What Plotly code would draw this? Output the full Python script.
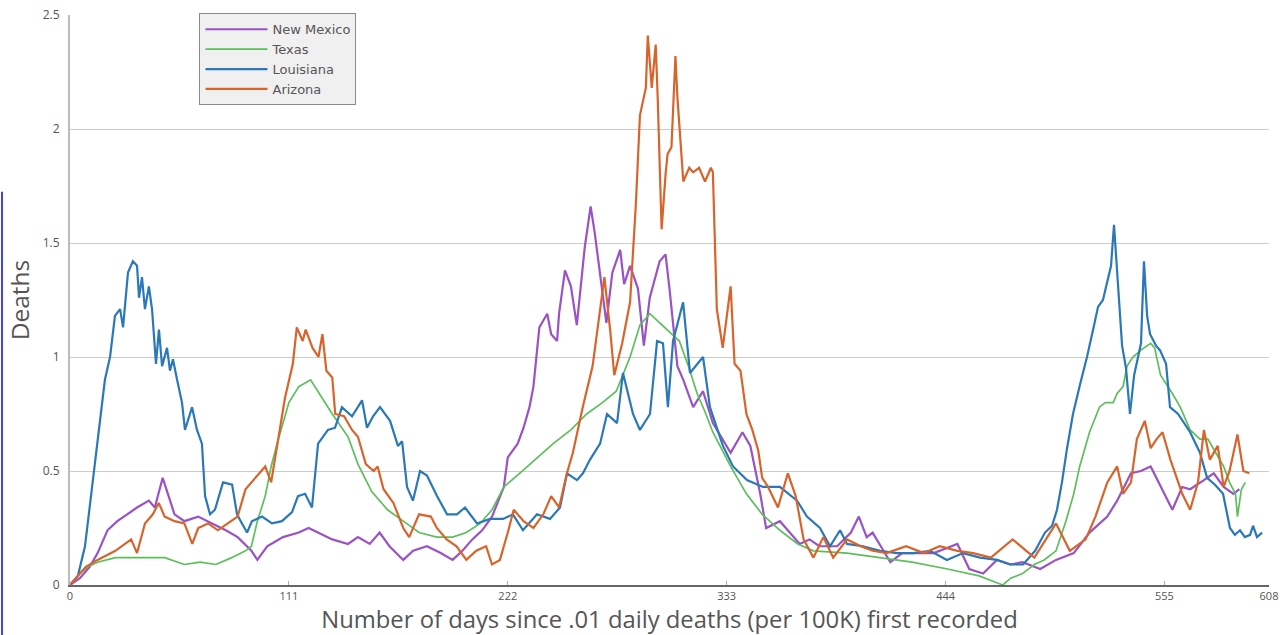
import plotly.graph_objects as go

# ---- data ----
x_tickvals = [0, 111, 222, 333, 444, 555, 608]
y_tickvals = [0, 0.5, 1, 1.5, 2, 2.5]
y_ticktext = ["0", "0.5", "1", "1.5", "2", "2.5"]

nm_day = [0, 5, 10, 14, 19, 24, 29, 34, 40, 43, 47, 50, 53, 58, 65, 72, 79, 85, 92, 95, 100, 108, 116, 121, 126,
          133, 141, 146, 152, 157, 162, 169, 174, 181, 188, 194, 199, 204, 209, 214, 220, 222, 227, 230, 233, 235,
          238, 242, 244, 247, 248, 251, 254, 257, 261, 264, 266, 269, 272, 275, 279, 281, 284, 288, 291, 294, 299,
          302, 304, 308, 311, 316, 321, 326, 335, 341, 345, 350, 353, 360, 365, 370, 375, 380, 389, 396, 400, 404,
          407, 411, 416, 422, 431, 438, 450, 456, 463, 470, 477, 483, 492, 500, 509, 517, 526, 531, 538, 543, 548,
          554, 559, 564, 568, 575, 580, 585, 590, 593]
nm_val = [0, 0.03, 0.08, 0.14, 0.24, 0.28, 0.31, 0.34, 0.37, 0.34, 0.47, 0.39, 0.31, 0.28, 0.30, 0.27, 0.24, 0.21,
          0.15, 0.11, 0.17, 0.21, 0.23, 0.25, 0.23, 0.20, 0.18, 0.21, 0.18, 0.23, 0.17, 0.11, 0.15, 0.17, 0.14, 0.11,
          0.15, 0.20, 0.24, 0.30, 0.43, 0.56, 0.62, 0.69, 0.78, 0.87, 1.13, 1.19, 1.10, 1.07, 1.19, 1.38, 1.31, 1.14,
          1.48, 1.66, 1.55, 1.34, 1.15, 1.37, 1.47, 1.32, 1.40, 1.30, 1.05, 1.26, 1.42, 1.45, 1.30, 0.96, 0.90, 0.78,
          0.85, 0.71, 0.58, 0.67, 0.61, 0.40, 0.25, 0.28, 0.23, 0.18, 0.20, 0.17, 0.17, 0.23, 0.30, 0.21, 0.23, 0.17,
          0.10, 0.14, 0.14, 0.14, 0.18, 0.07, 0.05, 0.11, 0.09, 0.10, 0.07, 0.11, 0.14, 0.23, 0.30, 0.37, 0.49, 0.50,
          0.52, 0.42, 0.33, 0.43, 0.42, 0.46, 0.49, 0.43, 0.40, 0.42]

tx_day = [0, 5, 9, 14, 23, 35, 48, 58, 66, 74, 82, 89, 92, 95, 99, 102, 105, 111, 116, 122, 127, 133, 141, 146,
          153, 161, 169, 177, 186, 194, 201, 208, 214, 220, 228, 237, 245, 254, 262, 270, 277, 284, 289, 294, 299,
          304, 309, 314, 318, 322, 326, 335, 343, 351, 360, 369, 377, 394, 411, 427, 445, 461, 470, 473, 477, 483,
          489, 494, 500, 505, 509, 512, 517, 522, 525, 529, 531, 534, 536, 539, 543, 548, 550, 553, 556, 559, 563,
          568, 573, 577, 581, 585, 588, 591, 592, 594, 596]
tx_val = [0, 0.05, 0.08, 0.10, 0.12, 0.12, 0.12, 0.09, 0.10, 0.09, 0.12, 0.15, 0.17, 0.28, 0.39, 0.52, 0.62, 0.80,
          0.87, 0.90, 0.83, 0.75, 0.65, 0.53, 0.41, 0.33, 0.28, 0.23, 0.21, 0.21, 0.23, 0.27, 0.33, 0.43, 0.49, 0.56,
          0.62, 0.68, 0.75, 0.80, 0.85, 1.00, 1.14, 1.19, 1.15, 1.11, 1.07, 0.95, 0.84, 0.76, 0.67, 0.52, 0.40, 0.31,
          0.24, 0.18, 0.15, 0.14, 0.12, 0.10, 0.07, 0.04, 0.01, 0.0, 0.03, 0.05, 0.09, 0.11, 0.15, 0.28, 0.40, 0.52,
          0.67, 0.78, 0.80, 0.80, 0.84, 0.87, 0.96, 1.00, 1.03, 1.06, 1.04, 0.92, 0.88, 0.84, 0.78, 0.68, 0.64, 0.64,
          0.58, 0.52, 0.45, 0.40, 0.30, 0.42, 0.45]

la_day = [0, 4, 7.6, 12.7, 17.7, 20.3, 22.8, 25.4, 26.9, 29.4, 31.9, 34, 35, 36.5, 38, 40, 41.6, 43.6, 45.1, 46.7,
          49.2, 50.7, 52.2, 54.3, 56.8, 58.3, 61.9, 64.4, 66.9, 68.5, 71, 73.5, 77.6, 82.2, 84.7, 87.2, 89.8, 92.3,
          97.4, 102.4, 107.5, 112.6, 115.6, 119.2, 122.7, 125.8, 130.8, 134.4, 137.9, 143, 148.1, 150.6, 153.7,
          157.2, 162.3, 166.3, 168.4, 170.9, 173.9, 177.5, 181, 186.1, 191.2, 196.2, 200.3, 206.4, 213, 219.6,
          224.6, 229.7, 236.8, 243.4, 248.5, 252, 257.1, 260.1, 263.7, 268.8, 272.3, 277.4, 280.4, 285.5, 289,
          294.1, 297.7, 300.7, 303.2, 305.8, 310.9, 314.4, 321, 324.5, 331.1, 336.2, 343.3, 351.4, 360, 368.7,
          373.7, 380.3, 385.4, 390.5, 394, 402.1, 410.8, 419.4, 427.5, 436.1, 444.7, 452.8, 461.5, 470.1, 476.7,
          483.3, 489.4, 494.4, 498, 500.5, 503, 505.6, 508.6, 512.2, 515.7, 518.8, 521.3, 523.8, 526.4, 527.9,
          529.4, 531.4, 533.5, 535.5, 537.5, 539.6, 541.6, 543.1, 544.6, 546.2, 547.7, 550.7, 552.7, 555.8, 557.8,
          561.9, 568, 573, 576.6, 580.6, 584.7, 588.2, 590.7, 593.3, 595.8, 598.4, 599.9, 601.9, 604.5]
la_val = [0, 0.04, 0.17, 0.53, 0.90, 1.00, 1.18, 1.21, 1.13, 1.37, 1.42, 1.40, 1.26, 1.35, 1.21, 1.31, 1.21, 0.97,
          1.12, 0.96, 1.04, 0.94, 0.99, 0.90, 0.80, 0.68, 0.78, 0.68, 0.62, 0.39, 0.31, 0.33, 0.45, 0.44, 0.31, 0.27,
          0.23, 0.28, 0.30, 0.27, 0.28, 0.32, 0.39, 0.40, 0.34, 0.62, 0.68, 0.69, 0.78, 0.74, 0.81, 0.69, 0.74, 0.78,
          0.72, 0.61, 0.63, 0.43, 0.37, 0.50, 0.48, 0.39, 0.31, 0.31, 0.34, 0.27, 0.29, 0.29, 0.31, 0.24, 0.31, 0.29,
          0.34, 0.49, 0.46, 0.49, 0.55, 0.62, 0.75, 0.71, 0.93, 0.75, 0.68, 0.75, 1.07, 1.06, 0.78, 1.07, 1.24, 0.93,
          1.00, 0.78, 0.61, 0.52, 0.46, 0.43, 0.43, 0.37, 0.30, 0.25, 0.17, 0.24, 0.18, 0.17, 0.15, 0.14, 0.14, 0.15,
          0.11, 0.14, 0.12, 0.11, 0.09, 0.09, 0.15, 0.23, 0.26, 0.33, 0.45, 0.60, 0.75, 0.88, 1.00, 1.12, 1.22, 1.25,
          1.35, 1.40, 1.58, 1.30, 1.05, 0.95, 0.75, 0.92, 1.00, 1.06, 1.42, 1.18, 1.10, 1.05, 1.03, 0.97, 0.78, 0.75,
          0.67, 0.58, 0.47, 0.44, 0.40, 0.25, 0.22, 0.24, 0.21, 0.22, 0.26, 0.21, 0.23]

az_day = [0, 8, 14, 23, 31, 34, 38, 42, 45, 48, 53, 58, 62, 65, 70, 75, 80, 85, 89, 94, 99, 102, 105, 109, 113, 115,
          118, 119.5, 123, 126, 128, 130, 133, 134.5, 139, 143, 146, 150, 154, 156, 159, 164, 169, 172, 177, 183,
          186, 191, 196, 201, 206, 211, 214, 218, 222, 225, 230, 235, 240, 244, 248, 252, 255, 260, 265, 269, 271,
          274, 276, 280, 284, 287, 289, 292, 293, 295, 297, 298, 300, 302, 303, 305, 307, 308, 311, 314, 316, 319,
          322, 325, 326, 328, 331, 335, 337, 340, 343, 346, 349, 351, 354, 359, 364, 368, 372, 377, 382, 387, 394,
          401, 407, 414, 424, 433, 441, 450, 458, 467, 478, 489, 500, 507, 515, 520, 526, 531, 534, 538, 541, 545,
          548, 551, 554, 558, 561, 564, 568, 572, 575, 578, 582, 585, 588, 592, 595, 598]
az_val = [0, 0.08, 0.11, 0.15, 0.20, 0.14, 0.27, 0.31, 0.36, 0.30, 0.28, 0.27, 0.18, 0.25, 0.27, 0.24, 0.27, 0.30,
          0.42, 0.47, 0.52, 0.45, 0.61, 0.82, 0.97, 1.13, 1.07, 1.12, 1.04, 1.00, 1.10, 0.94, 0.91, 0.75, 0.74, 0.68,
          0.65, 0.53, 0.50, 0.52, 0.42, 0.36, 0.25, 0.21, 0.31, 0.30, 0.25, 0.20, 0.17, 0.11, 0.15, 0.17, 0.09, 0.11,
          0.23, 0.33, 0.28, 0.25, 0.31, 0.39, 0.34, 0.49, 0.58, 0.78, 0.96, 1.21, 1.35, 1.11, 0.92, 1.06, 1.24, 1.68,
          2.06, 2.18, 2.41, 2.18, 2.37, 2.14, 1.56, 1.80, 1.89, 1.92, 2.32, 2.14, 1.77, 1.83, 1.81, 1.83, 1.77, 1.83,
          1.81, 1.21, 1.04, 1.31, 0.97, 0.94, 0.75, 0.68, 0.59, 0.47, 0.43, 0.34, 0.49, 0.39, 0.20, 0.12, 0.21, 0.12,
          0.20, 0.17, 0.15, 0.14, 0.17, 0.14, 0.17, 0.15, 0.14, 0.12, 0.20, 0.12, 0.27, 0.15, 0.20, 0.30, 0.45, 0.52,
          0.40, 0.45, 0.64, 0.72, 0.60, 0.64, 0.67, 0.55, 0.47, 0.40, 0.33, 0.45, 0.68, 0.55, 0.61, 0.43, 0.50, 0.66,
          0.50, 0.49]

series = [
    ("New Mexico", nm_day, nm_val, "#9a52c4", 2.2),
    ("Texas", tx_day, tx_val, "#5cbf5c", 1.7),
    ("Louisiana", la_day, la_val, "#2b78b8", 2.2),
    ("Arizona", az_day, az_val, "#d8642c", 2.2),
]

fig = go.Figure()
for name, xd, yd, color, w in series:
    fig.add_trace(go.Scatter(x=xd, y=yd, mode="lines", name=name,
                             line=dict(color=color, width=w)))

fig.update_layout(
    width=1281, height=635, autosize=False,
    margin=dict(l=70, r=12, t=15, b=50, autoexpand=False),
    paper_bgcolor="white", plot_bgcolor="white",
    font=dict(family="Open Sans, sans-serif", color="#555555"),
    legend=dict(x=0.108, y=1.003, xanchor="left", yanchor="top",
                bgcolor="#f0f0f0", bordercolor="#8a8a8a", borderwidth=1,
                itemwidth=62,
                font=dict(family="DejaVu Sans, sans-serif", size=13, color="#555555"),
                tracegroupgap=0),
    showlegend=True,
)
fig.update_xaxes(range=[0, 608], tickvals=x_tickvals, showgrid=False, zeroline=False, automargin=False,
                 showline=True, linecolor="#666666", linewidth=2,
                 ticks="inside", ticklen=4, tickcolor="#aaaaaa",
                 tickfont=dict(size=11, color="#555555"),
                 title=dict(text="Number of days since .01 daily deaths (per 100K) first recorded",
                            font=dict(size=23.8, color="#555555"), standoff=2))
fig.update_yaxes(range=[0, 2.5], tickvals=y_tickvals, ticktext=y_ticktext, automargin=False,
                 showgrid=True, gridcolor="#cccccc", gridwidth=1, zeroline=False,
                 showline=True, linecolor="#bbbbbb", linewidth=2,
                 ticks="outside", ticklen=6, tickcolor="#ffffff",
                 tickfont=dict(size=12, color="#555555"),
                 title=dict(text="Deaths", font=dict(size=24.5, color="#555555"), standoff=6))

# screenshot frame edge on the left
fig.add_shape(type="line", xref="paper", yref="paper", x0=-0.0567, x1=-0.0567, y0=0.69, y1=-0.09,
              line=dict(color="#4444d8", width=2), layer="above")

post = ("document.body.style.margin='0';document.body.style.padding='0';"
        "document.documentElement.style.overflow='hidden';")
fig.write_html("out.html", post_script=post, config={"displayModeBar": False})
